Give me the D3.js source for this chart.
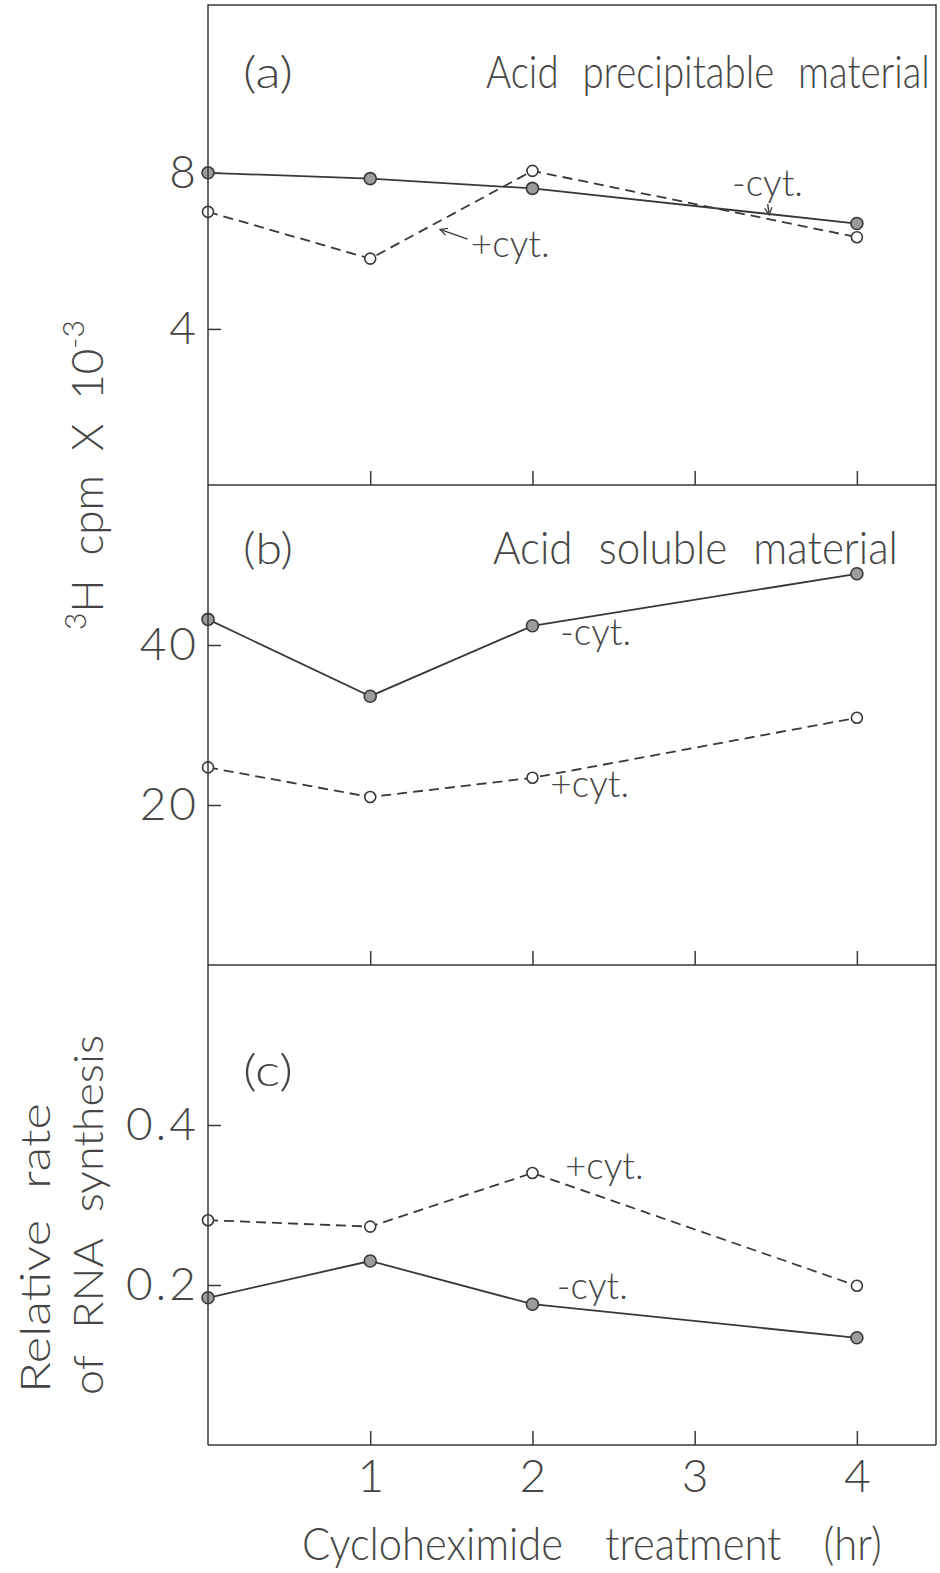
<!DOCTYPE html>
<html>
<head>
<meta charset="utf-8">
<script src="https://cdn.jsdelivr.net/npm/d3@7"></script>
<style>
  body { margin: 0; background: #fff; }
  svg text { font-family: "Lato", "DejaVu Sans", sans-serif; font-weight: 300; fill: #454545; }
</style>
</head>
<body>
<div id="chart"></div>
<script>
// sampling times (hr)
const hours = [0, 1, 2, 4];
const xTicks = [1, 2, 3, 4];

// (a) acid precipitable material, 3H cpm x 10^-3
const precipMinus = [8.0, 7.85, 7.6, 6.7];
const precipPlus = [7.0, 5.8, 8.05, 6.35];
const ticksA = [4, 8];

// (b) acid soluble material, 3H cpm x 10^-3
const solubleMinus = [43.2, 33.6, 42.4, 48.9];
const solublePlus = [24.7, 21.0, 23.4, 30.9];
const ticksB = [20, 40];

// (c) relative rate of RNA synthesis
const rateMinus = [0.184, 0.230, 0.176, 0.134];
const ratePlus = [0.281, 0.273, 0.340, 0.199];
const ticksC = [0.2, 0.4];

const W = 940, H = 1573;
const frameL = 208, frameR = 936, frameT = 5, panelH = 480;
const ink = "#383838";

const svg = d3.select("#chart").append("svg")
  .attr("width", W)
  .attr("height", H);

// squeeze a text horizontally so it spans `width` px from (x, y)
function fitText(sel, x, y, width) {
  const natural = sel.node().getComputedTextLength();
  sel.attr("transform", `translate(${x},${y}) scale(${width / natural},1)`);
}

// open arrowhead for the label pointers
svg.append("defs").append("marker")
  .attr("id", "arrow")
  .attr("viewBox", "0 0 10 10")
  .attr("refX", 9).attr("refY", 5)
  .attr("markerWidth", 9).attr("markerHeight", 9)
  .attr("markerUnits", "userSpaceOnUse")
  .attr("orient", "auto-start-reverse")
  .append("path")
  .attr("d", "M1,1 L9,5 L1,9")
  .attr("fill", "none")
  .attr("stroke", ink)
  .attr("stroke-width", 1.4);

const x = d3.scaleLinear().domain([0, 4.5]).range([frameL, 938]);

// tagY / titleY are baselines measured from the panel top
const panels = [
  { tag: "(a)", tagY: 83, title: "Acid precipitable material", titleX: 486, titleLen: 444, titleY: 83,
    max: 12.3, ticks: ticksA, fmt: d3.format("d"), minus: precipMinus, plus: precipPlus,
    minusLabel: [3.23, 7.4], plusLabel: [1.62, 5.85],
    minusArrow: [[3.45, 7.2], [3.46, 6.92]], plusArrow: [[1.6, 6.3], [1.43, 6.55]] },
  { tag: "(b)", tagY: 79, title: "Acid soluble material", titleX: 493, titleLen: 405, titleY: 79,
    max: 60, ticks: ticksB, fmt: d3.format("d"), minus: solubleMinus, plus: solublePlus,
    minusLabel: [2.17, 40.0], plusLabel: [2.11, 21.0] },
  { tag: "(c)", tagY: 121, title: null,
    max: 0.6, ticks: ticksC, fmt: d3.format(".1f"), minus: rateMinus, plus: ratePlus,
    minusLabel: [2.15, 0.182], plusLabel: [2.2, 0.332] }
];

panels.forEach((p, i) => {
  const y0 = frameT + i * panelH;
  const y = d3.scaleLinear().domain([0, p.max]).range([y0 + panelH, y0]);
  const g = svg.append("g");

  // y ticks point inward, labels outside
  const yAxis = g.append("g")
    .attr("transform", `translate(${frameL},0)`)
    .call(d3.axisLeft(y).tickValues(p.ticks).tickFormat(p.fmt)
      .tickSizeInner(-13).tickSizeOuter(0).tickPadding(9));
  yAxis.select(".domain").remove();
  yAxis.selectAll("line").attr("stroke", ink).attr("stroke-width", 1.5);
  yAxis.selectAll("text").attr("font-size", 46).attr("fill", "#454545")
    .attr("letter-spacing", 3).attr("font-family", null);

  // x ticks on the bottom edge of each panel, numbers only under the last one
  const xAxis = g.append("g")
    .attr("transform", `translate(0,${y0 + panelH})`)
    .call(d3.axisBottom(x).tickValues(xTicks)
      .tickFormat(i === 2 ? d3.format("d") : () => "")
      .tickSizeInner(-14).tickSizeOuter(0).tickPadding(14));
  xAxis.select(".domain").remove();
  xAxis.selectAll("line").attr("stroke", ink).attr("stroke-width", 1.5);
  xAxis.selectAll("text").attr("font-size", 46).attr("fill", "#454545")
    .attr("font-family", null);

  // panel bottom rule
  g.append("line")
    .attr("x1", frameL).attr("x2", frameR)
    .attr("y1", y0 + panelH).attr("y2", y0 + panelH)
    .attr("stroke", ink).attr("stroke-width", 1.5);

  const line = d3.line().x((d, j) => x(hours[j])).y(d => y(d));

  g.append("path").datum(p.plus)
    .attr("d", line).attr("fill", "none")
    .attr("stroke", ink).attr("stroke-width", 1.8)
    .attr("stroke-dasharray", "10,6");
  g.append("path").datum(p.minus)
    .attr("d", line).attr("fill", "none")
    .attr("stroke", ink).attr("stroke-width", 1.8);

  g.selectAll(".open").data(p.plus).join("circle")
    .attr("class", "open")
    .attr("cx", (d, j) => x(hours[j])).attr("cy", d => y(d))
    .attr("r", 5.5).attr("fill", "#fff")
    .attr("stroke", ink).attr("stroke-width", 1.6);
  g.selectAll(".filled").data(p.minus).join("circle")
    .attr("class", "filled")
    .attr("cx", (d, j) => x(hours[j])).attr("cy", d => y(d))
    .attr("r", 6).attr("fill", "#9c9c9c")
    .attr("stroke", ink).attr("stroke-width", 1.6);

  // panel letter and heading
  g.append("text")
    .attr("font-size", 44)
    .text(p.tag)
    .call(fitText, 243, y0 + p.tagY, 50);
  if (p.title) {
    g.append("text")
      .attr("font-size", 46)
      .attr("word-spacing", 16)
      .text(p.title)
      .call(fitText, p.titleX, y0 + p.titleY, p.titleLen);
  }

  // series labels
  g.append("text")
    .attr("x", x(p.minusLabel[0])).attr("y", y(p.minusLabel[1]))
    .attr("font-size", 37)
    .text("-cyt.");
  g.append("text")
    .attr("x", x(p.plusLabel[0])).attr("y", y(p.plusLabel[1]))
    .attr("font-size", 37)
    .text("+cyt.");

  [p.minusArrow, p.plusArrow].forEach(a => {
    if (!a) return;
    g.append("line")
      .attr("x1", x(a[0][0])).attr("y1", y(a[0][1]))
      .attr("x2", x(a[1][0])).attr("y2", y(a[1][1]))
      .attr("stroke", ink).attr("stroke-width", 1.4)
      .attr("marker-end", "url(#arrow)");
  });
});

// outer frame: left axis, top and right edges
svg.append("path")
  .attr("d", `M${frameR},${frameT + 3 * panelH}V${frameT}H${frameL}V${frameT + 3 * panelH}`)
  .attr("fill", "none")
  .attr("stroke", ink).attr("stroke-width", 1.5);

// axis titles
svg.append("text")
  .attr("transform", "translate(103,630) rotate(-90)")
  .attr("font-size", 44)
  .attr("word-spacing", 12)
  .call(t => {
    t.append("tspan").attr("font-size", 30).attr("dy", -17).text("3");
    t.append("tspan").attr("dy", 17).text("H cpm X 10");
    t.append("tspan").attr("font-size", 30).attr("dy", -19).text("-3");
  });

svg.append("text")
  .attr("transform", "translate(50,1393) rotate(-90)")
  .attr("font-size", 42)
  .attr("word-spacing", 14)
  .attr("textLength", 290)
  .attr("lengthAdjust", "spacingAndGlyphs")
  .text("Relative rate");
svg.append("text")
  .attr("transform", "translate(103,1395) rotate(-90)")
  .attr("font-size", 42)
  .attr("word-spacing", 14)
  .attr("textLength", 360)
  .attr("lengthAdjust", "spacingAndGlyphs")
  .text("of RNA synthesis");

svg.append("text")
  .attr("font-size", 46)
  .attr("word-spacing", 34)
  .text("Cycloheximide treatment (hr)")
  .call(fitText, 302, 1560, 580);
</script>
</body>
</html>
